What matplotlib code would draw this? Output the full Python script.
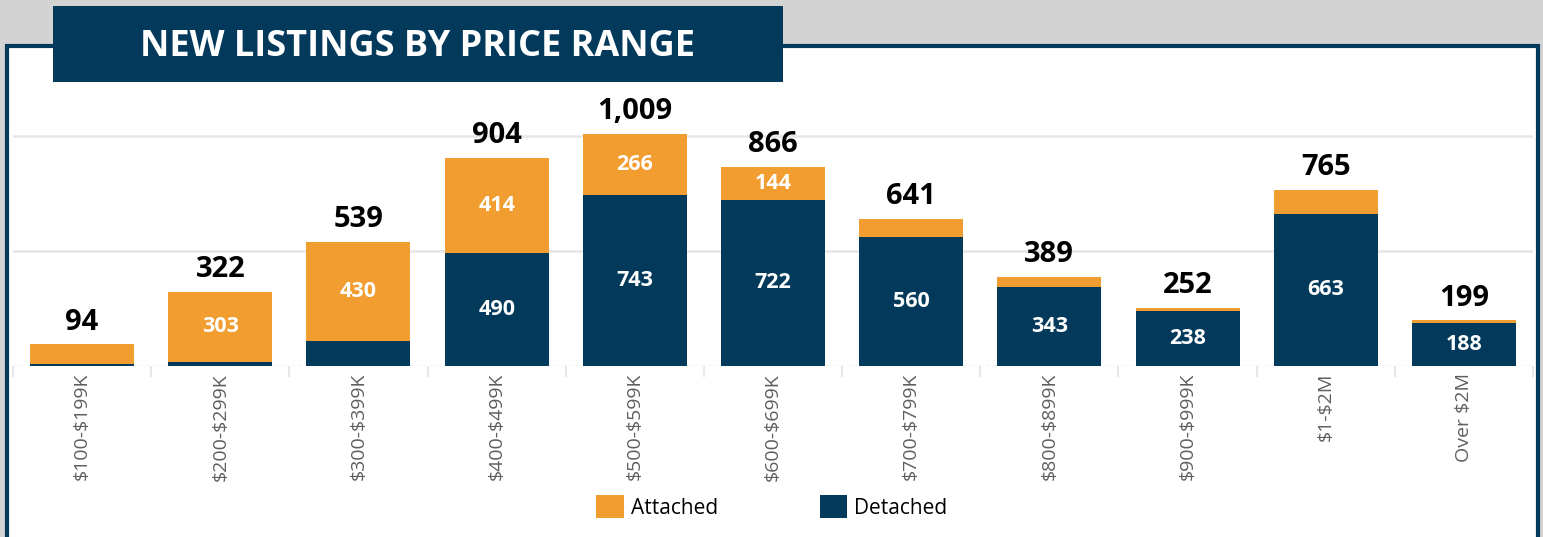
import matplotlib.pyplot as plt
from matplotlib.patches import Rectangle

# data
ranges = ['$100-$199K', '$200-$299K', '$300-$399K', '$400-$499K', '$500-$599K',
          '$600-$699K', '$700-$799K', '$800-$899K', '$900-$999K', '$1-$2M', 'Over $2M']
detached = [7, 19, 109, 490, 743, 722, 560, 343, 238, 663, 188]
attached = [87, 303, 430, 414, 266, 144, 81, 46, 14, 102, 11]
totals = [94, 322, 539, 904, 1009, 866, 641, 389, 252, 765, 199]

navy = '#033a5b'
orange = '#f29d2f'

plt.rcParams['font.family'] = ['Open Sans', 'DejaVu Sans']
plt.rcParams['text.parse_math'] = False

W, H = 1543, 537
fig = plt.figure(figsize=(W / 100, H / 100), dpi=100)
fig.patch.set_facecolor('white')

# grey backdrop on top + panel with dark border
fig.patches.append(Rectangle((0, 1 - 44 / H), 1, 44 / H, transform=fig.transFigure,
                             facecolor='#d3d3d3', edgecolor='none', zorder=0))
fig.patches.append(Rectangle((0, 0), 6 / W, 1, transform=fig.transFigure,
                             facecolor='#d3d3d3', edgecolor='none', zorder=0))
fig.patches.append(Rectangle((1539 / W, 0), 4 / W, 1, transform=fig.transFigure,
                             facecolor='#d3d3d3', edgecolor='none', zorder=0))
fig.patches.append(Rectangle((7.5 / W, -0.05), 1530 / W, 1.05 - 45.5 / H, transform=fig.transFigure,
                             facecolor='white', edgecolor=navy, lw=3, zorder=1))
# title box
fig.patches.append(Rectangle((53 / W, 1 - 82 / H), 730 / W, 76 / H, transform=fig.transFigure,
                             facecolor=navy, edgecolor='none', zorder=2))
fig.text(418 / W, 1 - 47 / H, 'NEW LISTINGS BY PRICE RANGE', color='white', fontsize=26,
         fontweight='bold', ha='center', va='center', zorder=3)

ymax = 1160
ax = fig.add_axes([13 / W, 1 - 366 / H, 1520 / W, ymax * 0.23 / H])
ax.set_facecolor('none')
ax.set_zorder(4)

x = range(len(ranges))
b1 = ax.bar(x, detached, width=0.753, color=navy, label='Detached', zorder=3)
b2 = ax.bar(x, attached, width=0.753, bottom=detached, color=orange, label='Attached', zorder=3)

for i in x:
    if detached[i] >= 120:
        ax.text(i, detached[i] / 2, f'{detached[i]:,}', color='white', fontsize=15.5,
                fontweight='bold', ha='center', va='center', zorder=4)
    if attached[i] >= 120:
        ax.text(i, detached[i] + attached[i] / 2, f'{attached[i]:,}', color='white',
                fontsize=15.5, fontweight='bold', ha='center', va='center', zorder=4)
    ax.annotate(f'{totals[i]:,}', (i, totals[i]), xytext=(0, 16), textcoords='offset points',
                ha='center', va='center', fontsize=21, fontweight='bold', color='black')

ax.set_xlim(-0.5, len(ranges) - 0.5)
ax.set_ylim(0, ymax)
for v in (500, 1000):
    ax.axhline(v, color='#e6e6e6', lw=1.8, zorder=1)
ax.axhline(0, color='#c8c8c8', lw=1, ls=(0, (3, 2)), zorder=2)

ax.set_xticks(list(x))
ax.set_xticklabels(ranges, rotation=90, fontsize=14, color='#605e5c')
ax.set_xticks([i - 0.5 for i in range(len(ranges) + 1)], minor=True)
ax.tick_params(axis='x', which='major', length=0, pad=5)
ax.tick_params(axis='x', which='minor', length=8, color='#e8e8e8', width=1.5)
ax.set_yticks([])
for s in ax.spines.values():
    s.set_visible(False)

fig.legend(handles=[b2, b1], labels=['Attached', 'Detached'], loc='center',
           bbox_to_anchor=(772 / W, 1 - 507 / H), ncol=2, frameon=False, fontsize=15,
           handlelength=1.3, handleheight=1.3, handletextpad=0.35, columnspacing=4.9)

fig.savefig('out.png', dpi=100)
